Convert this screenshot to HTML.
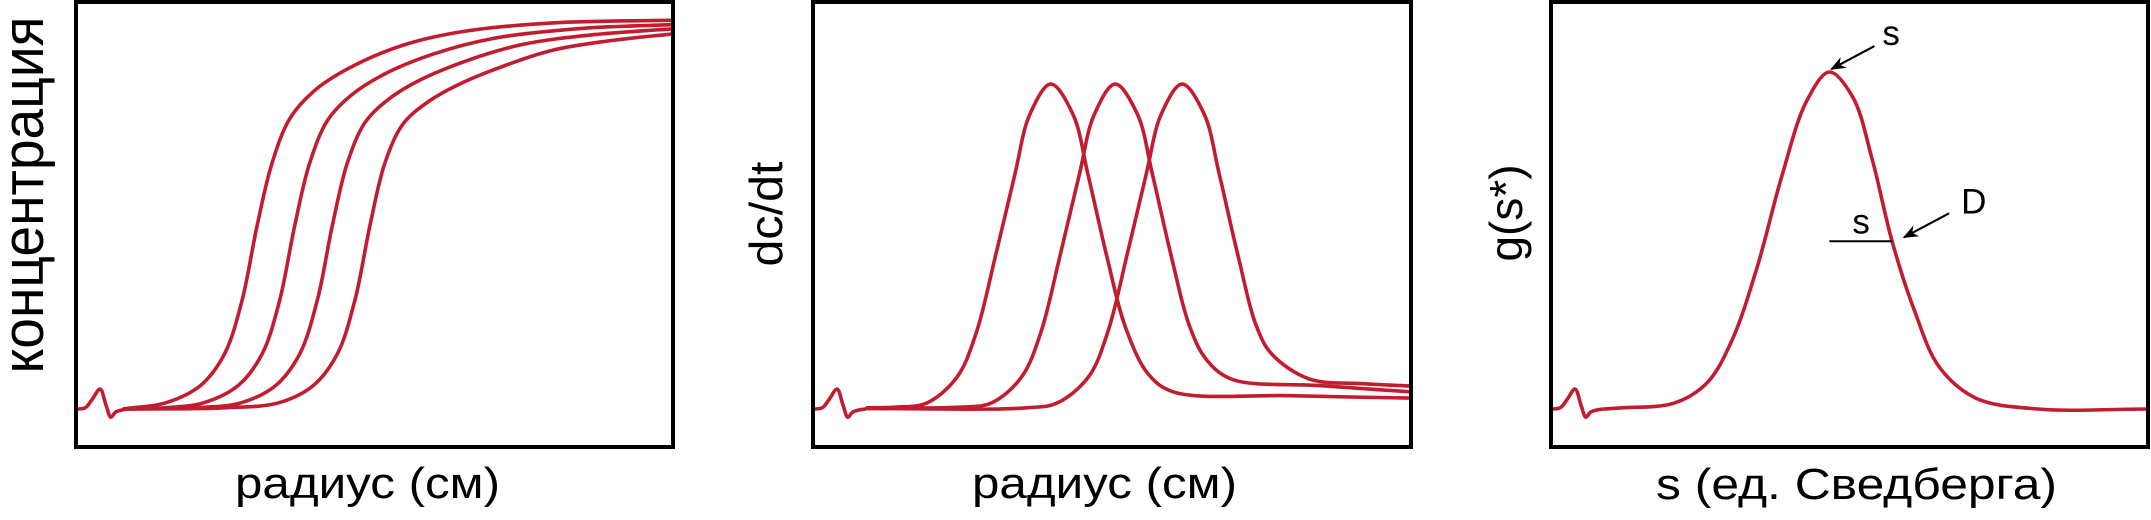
<!DOCTYPE html>
<html><head><meta charset="utf-8"><title>AUC charts</title>
<style>
html,body{margin:0;padding:0;background:#fff;}
svg{display:block;}
text{font-family:"Liberation Sans","DejaVu Sans",sans-serif;fill:#000;}
</style></head>
<body>
<svg id="fig" width="2151" height="520" viewBox="0 0 2151 520" xmlns="http://www.w3.org/2000/svg">
<defs>
<clipPath id="c1"><rect x="76" y="2" width="597" height="445"/></clipPath>
<clipPath id="c2"><rect x="813" y="2" width="598" height="445"/></clipPath>
<clipPath id="c3"><rect x="1551" y="2" width="597" height="445"/></clipPath>
<marker id="arr" viewBox="0 0 10 10" refX="9" refY="5" markerWidth="7" markerHeight="7" orient="auto"><path d="M0,1 L10,5 L0,9 L3,5 Z" fill="#000"/></marker>
</defs>
<g id="p1"></g>
<g id="p2"></g>
<g id="p3"></g>

<rect x="76" y="2" width="597" height="445" fill="none" stroke="#000" stroke-width="4"/>
<rect x="813" y="2" width="598" height="445" fill="none" stroke="#000" stroke-width="4"/>
<rect x="1551" y="2" width="597" height="445" fill="none" stroke="#000" stroke-width="4"/>

<text transform="translate(43,195) rotate(-90)" text-anchor="middle" font-size="58" textLength="357" lengthAdjust="spacingAndGlyphs">концентрация</text>
<text x="235" y="498" font-size="44" textLength="265" lengthAdjust="spacingAndGlyphs">радиус (см)</text>
<text transform="translate(782,214) rotate(-90)" text-anchor="middle" font-size="46" textLength="105" lengthAdjust="spacingAndGlyphs">dc/dt</text>
<text x="972" y="498" font-size="44" textLength="265" lengthAdjust="spacingAndGlyphs">радиус (см)</text>
<text transform="translate(1522,213) rotate(-90)" text-anchor="middle" font-size="46" textLength="97" lengthAdjust="spacingAndGlyphs">g(s*)</text>
<text x="1656" y="499" font-size="44" textLength="401" lengthAdjust="spacingAndGlyphs">s (ед. Сведберга)</text>
</svg>
<script>
// ---- data (x: radius / s units 0..100, y: signal 0..100) ----
var meniscus = [[-0.5,0],[1.7,0.3],[2.8,2.3],[4.2,5.1],[5.2,1],[6,-2.1],[6.8,-0.8],[8,-0.2],[9,0]];
var conc1 = [[8,0],[15.2,1.6],[21,6],[25,14],[28,28],[30.5,47],[33,63],[36,74.5],[40,81.5],[46,87.5],[55,93.3],[65,96.8],[80,99],[100.3,99.7]];
var conc2 = [[8,0],[15,0.3],[21.5,1.6],[27.3,6],[31.3,14],[34.3,28],[36.8,47],[39.3,63],[42.3,74],[46.3,80.5],[52,86],[60,91],[70,95],[84,97.5],[100.3,98.6]];
var conc3 = [[8,0],[20,0.3],[27.8,1.6],[33.6,6],[37.6,14],[40.6,28],[43.1,47],[45.6,63],[48.6,73.5],[52.6,79.5],[58,84.5],[66,89.5],[75,93.5],[87,96],[100.3,97.5]];
var conc4 = [[8,0],[25,0.3],[34.1,1.6],[39.9,6],[43.9,14],[46.9,28],[49.4,47],[51.9,63],[54.9,73],[58.9,78.5],[64,83],[71,87.5],[80,92],[90,94.5],[100.3,96.2]];
var deriv1 = [[9,0.3],[14.2,0.5],[19.2,1.5],[24.3,8.2],[27.5,19.5],[30.8,39.7],[34,60.3],[36.5,75.6],[40,83.3],[43.7,75.6],[46.2,60.3],[49.3,39.7],[52.5,21],[56.3,9],[60.5,4.4],[80,3.4],[100.3,2.8]];
var deriv2 = [[9,0.2],[25,0.5],[30,1.5],[35.1,8.2],[38.3,19.5],[41.6,39.7],[44.8,60.3],[47.3,75.6],[50.8,83.3],[54.5,75.6],[57,60.3],[60.1,39.7],[63.3,21],[66,12.8],[70.2,7.7],[85,6.0],[100.3,4.4]];
var deriv3 = [[9,0.1],[36,0.3],[41,1.5],[46.3,8.2],[49.5,19.5],[52.8,39.7],[56,60.3],[58.5,75.6],[62,83.3],[65.7,75.6],[68.2,60.3],[71.3,39.7],[74.5,21],[77,14.1],[83.3,7.7],[92,6.5],[100.3,5.9]];
var gs = [[9,0],[12,0.3],[20.8,1.5],[26.3,6.7],[30.5,17.7],[34.7,36.4],[38.8,59.5],[43,79],[46.8,86.4],[50.7,80],[54,63.8],[57.3,43],[61,25.4],[65.2,10.8],[71.3,2.8],[81.7,0],[100.3,0]];
var sPeak = 46.8;
var halfHeight = 43;
var halfRight = 57.3;

var NS = "http://www.w3.org/2000/svg";
function xs(left){ return function(d){ return left + 1 + d*5.97; }; }
function ys(d){ return 409 - d*3.9; }
function dist(a,b){ return Math.sqrt(Math.pow(a[0]-b[0],2)+Math.pow(a[1]-b[1],2)); }
function spline(pts, X){
  var p = pts.map(function(q){ return [X(q[0]), ys(q[1])]; });
  var s = "M" + p[0][0].toFixed(1) + "," + p[0][1].toFixed(1);
  var e = 1e-6;
  for (var i=0;i<p.length-1;i++){
    var p0=p[Math.max(i-1,0)], p1=p[i], p2=p[i+1], p3=p[Math.min(i+2,p.length-1)];
    var l1 = Math.sqrt(dist(p0,p1)), l2 = Math.sqrt(dist(p1,p2)), l3 = Math.sqrt(dist(p2,p3));
    var c1x, c1y, c2x, c2y;
    if (l1 > e) {
      var a = 2*l1*l1 + 3*l1*l2 + l2*l2, n = 3*l1*(l1+l2);
      c1x = (p1[0]*a - p0[0]*l2*l2 + p2[0]*l1*l1)/n;
      c1y = (p1[1]*a - p0[1]*l2*l2 + p2[1]*l1*l1)/n;
    } else { c1x = p1[0]+(p2[0]-p1[0])/3; c1y = p1[1]+(p2[1]-p1[1])/3; }
    if (l3 > e) {
      var b = 2*l3*l3 + 3*l3*l2 + l2*l2, m = 3*l3*(l3+l2);
      c2x = (p2[0]*b + p1[0]*l3*l3 - p3[0]*l2*l2)/m;
      c2y = (p2[1]*b + p1[1]*l3*l3 - p3[1]*l2*l2)/m;
    } else { c2x = p2[0]-(p2[0]-p1[0])/3; c2y = p2[1]-(p2[1]-p1[1])/3; }
    s += " C"+c1x.toFixed(1)+","+c1y.toFixed(1)+" "+c2x.toFixed(1)+","+c2y.toFixed(1)+" "+p2[0].toFixed(1)+","+p2[1].toFixed(1);
  }
  return s;
}
function addPath(g, d, clip, name){
  var el = document.createElementNS(NS,"path");
  el.setAttribute("d", d);
  el.setAttribute("fill","none");
  el.setAttribute("stroke","#c21d2f");
  el.setAttribute("stroke-width","3.6");
  el.setAttribute("stroke-linejoin","round");
  el.setAttribute("clip-path","url(#"+clip+")");
  
  
  g.appendChild(el);
  return el;
}
var X1 = xs(74), X2 = xs(811), X3 = xs(1549);
var g1 = document.getElementById("p1"), g2 = document.getElementById("p2"), g3 = document.getElementById("p3");
addPath(g1, spline(meniscus, X1), "c1", "meniscus-1");
addPath(g1, spline(conc1, X1), "c1", "boundary-curve-1");
addPath(g1, spline(conc2, X1), "c1", "boundary-curve-2");
addPath(g1, spline(conc3, X1), "c1", "boundary-curve-3");
addPath(g1, spline(conc4, X1), "c1", "boundary-curve-4");
addPath(g2, spline(meniscus, X2), "c2", "meniscus-2");
addPath(g2, spline(deriv1, X2), "c2", "derivative-curve-1");
addPath(g2, spline(deriv2, X2), "c2", "derivative-curve-2");
addPath(g2, spline(deriv3, X2), "c2", "derivative-curve-3");
addPath(g3, spline(meniscus, X3), "c3", "meniscus-3");
addPath(g3, spline(gs, X3), "c3", "gs-distribution-curve");

// annotations on panel 3
var px = X3(sPeak), py = ys(86.4);
var hl = document.createElementNS(NS,"line");
hl.setAttribute("x1", X3(sPeak)); hl.setAttribute("x2", X3(halfRight));
hl.setAttribute("y1", ys(halfHeight)); hl.setAttribute("y2", ys(halfHeight));
hl.setAttribute("stroke","#000"); hl.setAttribute("stroke-width","2");


g3.appendChild(hl);
function arrow(x1,y1,x2,y2,name){
  var a = document.createElementNS(NS,"line");
  a.setAttribute("x1",x1); a.setAttribute("y1",y1); a.setAttribute("x2",x2); a.setAttribute("y2",y2);
  a.setAttribute("stroke","#000"); a.setAttribute("stroke-width","2.2");
  a.setAttribute("marker-end","url(#arr)");
  
  
  g3.appendChild(a);
}
arrow(px+45, py-26, px+2, py-3, "s-arrow");
arrow(X3(halfRight)+57, ys(halfHeight)-28, X3(halfRight)+12, ys(halfHeight)-4, "d-arrow");
function label(x,y,t,name){
  var e = document.createElementNS(NS,"text");
  e.setAttribute("x",x); e.setAttribute("y",y); e.setAttribute("font-size","35");
  e.textContent = t;
  
  
  g3.appendChild(e);
}
label(px+53, py-27, "s", "s-peak-label");
label(X3(sPeak)+23, ys(halfHeight)-8, "s", "s-halfwidth-label");
label(X3(halfRight)+69, ys(halfHeight)-28, "D", "diffusion-label");
</script>
</body></html>
